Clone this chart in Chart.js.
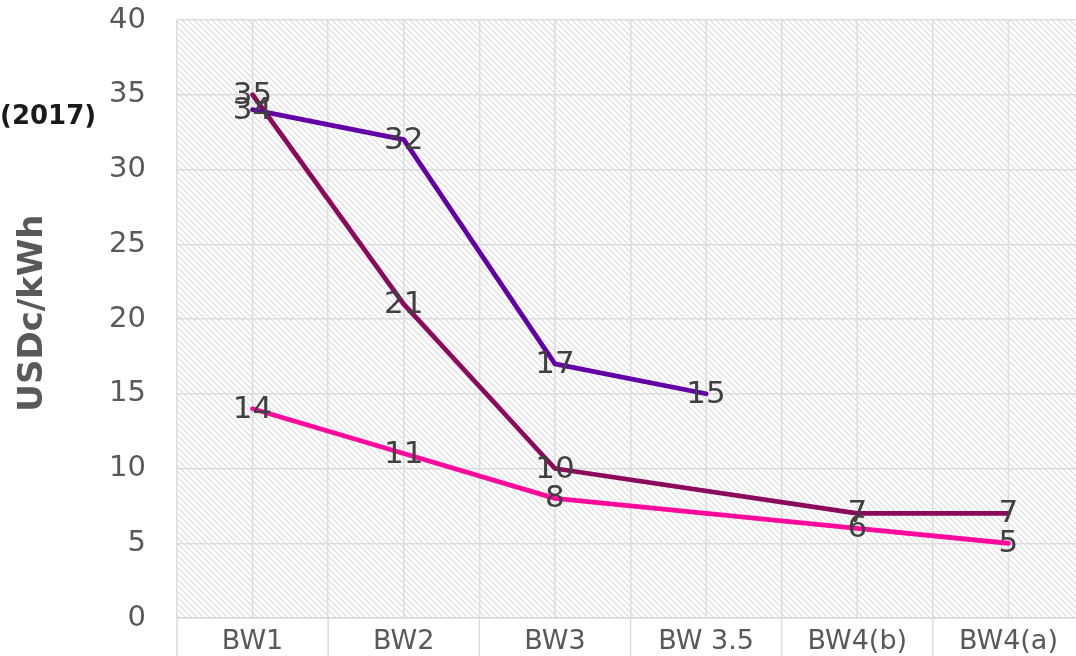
<!DOCTYPE html>
<html>
<head>
<meta charset="utf-8">
<script src="https://cdn.jsdelivr.net/npm/chart.js@4/dist/chart.umd.min.js"></script>
<style>
  html, body { margin: 0; padding: 0; background: #fff; overflow: hidden; }
  #wrap { position: relative; width: 1084px; height: 656px; }
  #nota { position: absolute; left: 0; top: 100px; font: bold 26px "DejaVu Sans"; color: #1a1a1a; z-index: 2; }
</style>
</head>
<body>
<div id="wrap">
  <div id="nota">(2017)</div>
  <canvas id="grafico"></canvas>
</div>
<script>
// Datos del gráfico
const categorias = ['BW1', 'BW2', 'BW3', 'BW 3.5', 'BW4(b)', 'BW4(a)'];
const serieMorada = [34, 32, 17, 15, null, null];
const serieGranate = [35, 21, 10, null, 7, 7];
const serieRosa = [14, 11, 8, null, 6, 5];
const ticksY = [0, 5, 10, 15, 20, 25, 30, 35, 40];

// Patrón rayado para el fondo del área del gráfico
function crearRayado(ctx) {
    const t = document.createElement('canvas');
    t.width = 6; t.height = 6;
    const c = t.getContext('2d');
    c.fillStyle = '#ffffff';
    c.fillRect(0, 0, 6, 6);
    c.strokeStyle = '#dadada';
    c.lineWidth = 1.1;
    c.beginPath();
    c.moveTo(-1, -1); c.lineTo(7, 7);
    c.moveTo(-4, 2); c.lineTo(4, 10);
    c.moveTo(2, -4); c.lineTo(10, 4);
    c.stroke();
    return ctx.createPattern(t, 'repeat');
}

const fondoRayado = {
    id: 'fondoRayado',
    beforeDraw(chart) {
        const { ctx, chartArea: a } = chart;
        ctx.save();
        ctx.fillStyle = crearRayado(ctx);
        ctx.fillRect(a.left, a.top, a.right - a.left, a.bottom - a.top);
        ctx.restore();
    },
    beforeDatasetsDraw(chart) {
        // líneas verticales en el centro de cada categoría y separadores bajo el eje
        const { ctx, chartArea: a, scales } = chart;
        const x = scales.x;
        ctx.save();
        ctx.strokeStyle = '#dcdcdc';
        ctx.lineWidth = 1.5;
        ctx.beginPath();
        categorias.forEach(function(c, i) {
            const px = x.getPixelForValue(i);
            ctx.moveTo(px, a.top); ctx.lineTo(px, a.bottom);
        });
        for (let i = 0; i <= categorias.length; i++) {
            const px = x.getPixelForValue(i - 0.5);
            ctx.moveTo(px, a.bottom); ctx.lineTo(px, chart.height);
        }
        ctx.stroke();
        ctx.restore();
    }
};

const etiquetasDatos = {
    id: 'etiquetasDatos',
    afterDatasetsDraw(chart) {
        const ctx = chart.ctx;
        ctx.save();
        ctx.font = '31px "DejaVu Sans"';
        ctx.fillStyle = '#404040';
        ctx.textAlign = 'center';
        ctx.textBaseline = 'middle';
        chart.data.datasets.forEach(function(ds, di) {
            const meta = chart.getDatasetMeta(di);
            ds.data.forEach(function(v, i) {
                if (v === null) return;
                const p = meta.data[i];
                ctx.fillText(String(v), p.x, p.y + 1);
            });
        });
        ctx.restore();
    }
};

const ctx = document.getElementById('grafico').getContext('2d');
const chart = new Chart(ctx, {
    type: 'line',
    data: {
        labels: categorias,
        datasets: [
            { label: 'Serie 1', data: serieMorada, borderColor: '#6200a6' },
            { label: 'Serie 2', data: serieGranate, borderColor: '#8c0a5c' },
            { label: 'Serie 3', data: serieRosa, borderColor: '#ff0a9c' }
        ].map(function(d) {
            return Object.assign(d, {
                borderWidth: 4.8,
                pointRadius: 0,
                pointHoverRadius: 0,
                tension: 0,
                spanGaps: true,
                fill: false,
                borderJoinStyle: 'round',
                borderCapStyle: 'round'
            });
        })
    },
    options: {
        responsive: true,
        maintainAspectRatio: false,
        animation: false,
        layout: { padding: { top: 20, right: 0, left: 0, bottom: 0 } },
        plugins: {
            legend: { display: false },
            tooltip: { enabled: false }
        },
        scales: {
            x: {
                offset: true,
                grid: { offset: true, color: '#dcdcdc', lineWidth: 1.5, drawTicks: false },
                border: { color: '#d9d9d9', width: 1.5 },
                ticks: { color: '#595959', font: { family: 'DejaVu Sans', size: 27 }, padding: 8, maxRotation: 0 },
                afterFit(scale) {
                    scale.height = 38;
                    scale.paddingLeft = 0;
                    scale.paddingRight = 0;
                }
            },
            y: {
                min: 0,
                max: 40,
                afterBuildTicks(scale) { scale.ticks = ticksY.map(function(v) { return { value: v }; }); },
                grid: { color: '#dcdcdc', lineWidth: 1.5, drawTicks: false },
                border: { display: false },
                ticks: { color: '#595959', font: { family: 'DejaVu Sans', size: 29 }, padding: 31 },
                title: {
                    display: true,
                    text: ' USDc/kWh',
                    color: '#595959',
                    font: { family: 'DejaVu Sans', size: 34, weight: 'bold' },
                    padding: { top: 13, bottom: 0 }
                },
                afterFit(scale) {
                    scale.width = 177;
                    scale.paddingTop = 0;
                    scale.paddingBottom = 0;
                }
            }
        }
    },
    plugins: [fondoRayado, etiquetasDatos]
});
</script>
</body>
</html>
